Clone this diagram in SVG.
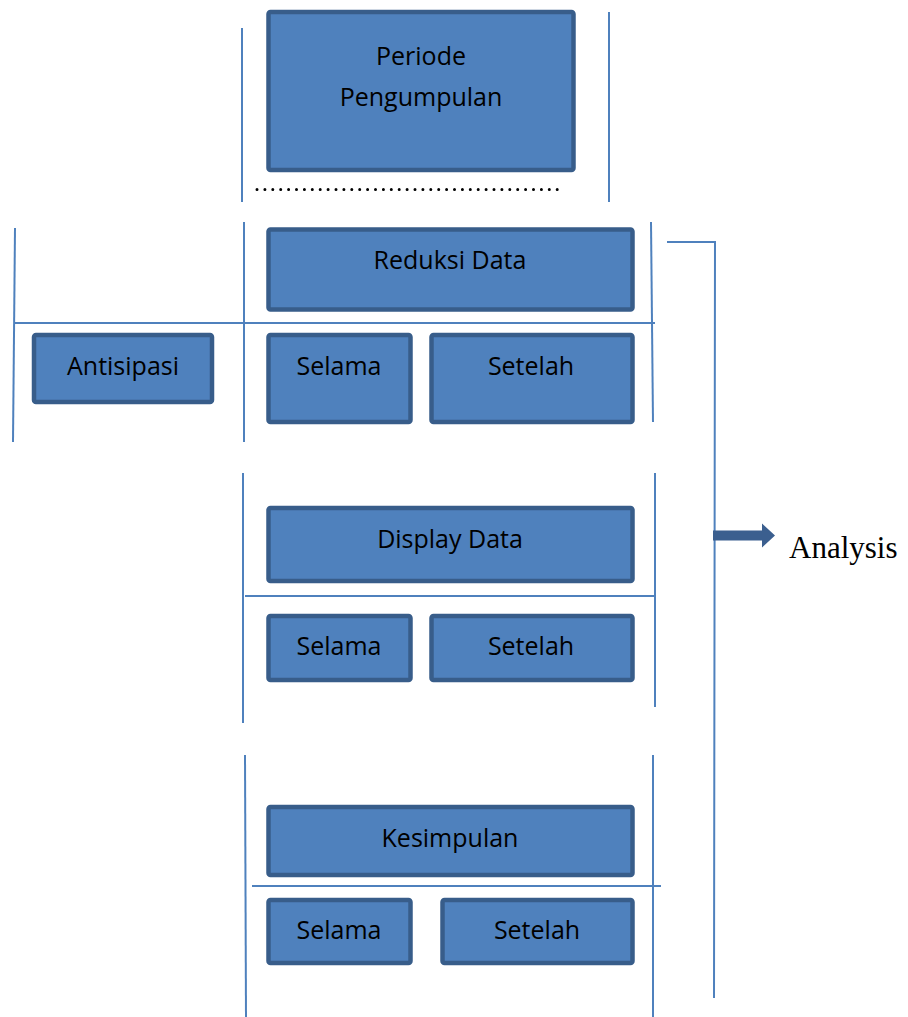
<svg xmlns="http://www.w3.org/2000/svg" width="908" height="1017" viewBox="0 0 908 1017">
<style>
.box{fill:#4f81bd;stroke:#385d8a;stroke-width:4.5}
.ln{stroke:#4f81bd;stroke-width:2;fill:none}
.t{font-family:"Open Sans","Liberation Sans",sans-serif;font-size:25px;fill:#000;text-anchor:middle}
.a{font-family:"Liberation Serif",serif;font-size:31px;fill:#000}
</style>
<rect width="908" height="1017" fill="#fff"/>
<g id="connectors">
<line class="ln" x1="242" y1="28" x2="242" y2="202"/>
<line class="ln" x1="609" y1="12" x2="609" y2="202"/>
<line x1="257" y1="189.5" x2="562" y2="189.5" stroke="#000" stroke-width="3" stroke-linecap="round" stroke-dasharray="0 7.9"/>
<line class="ln" x1="15" y1="228" x2="13" y2="442"/>
<line class="ln" x1="244" y1="222" x2="244" y2="442"/>
<line class="ln" x1="651" y1="222" x2="653" y2="422"/>
<line class="ln" x1="15" y1="323" x2="655" y2="323"/>
<line class="ln" x1="243" y1="473" x2="243" y2="723"/>
<line class="ln" x1="655" y1="473" x2="655" y2="707"/>
<line class="ln" x1="245" y1="596" x2="655" y2="596"/>
<line class="ln" x1="245" y1="755" x2="246" y2="1017"/>
<line class="ln" x1="653" y1="755" x2="653" y2="1017"/>
<line class="ln" x1="252" y1="886" x2="661" y2="886"/>
<polyline class="ln" points="667,242 715,242 714,998"/>
<polygon points="713,530.5 762,530.5 762,523.5 775,535.5 762,547.5 762,540.5 713,540.5" fill="#3b5f8f"/>
</g>
<g id="periode"><rect class="box" x="268.5" y="12" width="305" height="158" rx="2"/><text class="t" x="421" y="65">Periode</text><text class="t" x="421" y="106">Pengumpulan</text></g>
<g id="reduksi"><rect class="box" x="268.5" y="229.5" width="364" height="80" rx="2"/><text class="t" x="450" y="269">Reduksi Data</text></g>
<g id="antisipasi"><rect class="box" x="34" y="335" width="178" height="67" rx="2"/><text class="t" x="123" y="375">Antisipasi</text></g>
<g id="selama1"><rect class="box" x="268.5" y="335" width="142" height="87" rx="2"/><text class="t" x="339" y="375">Selama</text></g>
<g id="setelah1"><rect class="box" x="431.5" y="335" width="201" height="87" rx="2"/><text class="t" x="531" y="375">Setelah</text></g>
<g id="display"><rect class="box" x="268.5" y="508" width="364" height="73" rx="2"/><text class="t" x="450" y="548">Display Data</text></g>
<g id="selama2"><rect class="box" x="268.5" y="616" width="142" height="64" rx="2"/><text class="t" x="339" y="655">Selama</text></g>
<g id="setelah2"><rect class="box" x="431.5" y="616" width="201" height="64" rx="2"/><text class="t" x="531" y="655">Setelah</text></g>
<g id="kesimpulan"><rect class="box" x="268.5" y="807" width="364" height="68" rx="2"/><text class="t" x="450" y="847">Kesimpulan</text></g>
<g id="selama3"><rect class="box" x="268.5" y="900" width="142" height="63" rx="2"/><text class="t" x="339" y="939">Selama</text></g>
<g id="setelah3"><rect class="box" x="442.5" y="900" width="190" height="63" rx="2"/><text class="t" x="537" y="939">Setelah</text></g>
<g id="analysis"><text class="a" x="789" y="558">Analysis</text></g>
</svg>
